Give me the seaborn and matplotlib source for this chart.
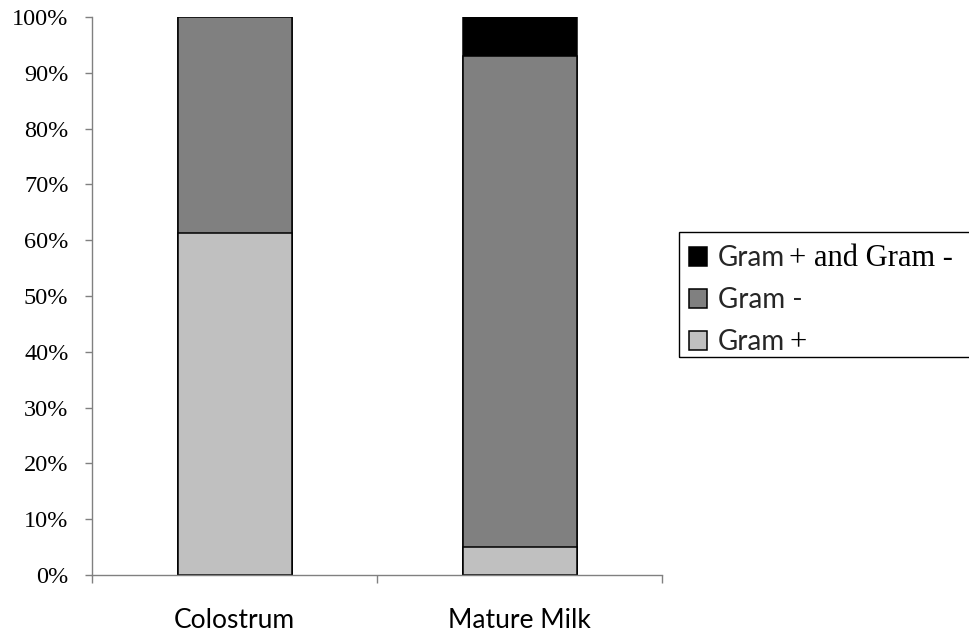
import matplotlib
matplotlib.use("Agg")
import matplotlib.pyplot as plt
import seaborn as sns
import pandas as pd
import numpy as np
from matplotlib.patches import Patch, Rectangle

categories = ["Colostrum", "Mature Milk"]
gram_pos = [61.3, 5.0]
gram_neg = [38.7, 88.0]
gram_both = [0.0, 7.0]
series_names = ["Gram + and Gram -", "Gram -", "Gram +"]
yticks = [0, 10, 20, 30, 40, 50, 60, 70, 80, 90, 100]
ytick_labels = [f"{v}%" for v in yticks]

sns.set_theme(style="white")
plt.rcParams["font.family"] = ["Liberation Serif", "DejaVu Sans"]

W, H = 969, 637
fig = plt.figure(figsize=(W / 100, H / 100), dpi=100)
ax = fig.add_axes([92 / W, 1 - 575 / H, (662 - 92) / W, (575 - 17) / H])

df = pd.DataFrame({
    "cat": categories,
    "pos": gram_pos,
    "neg": gram_neg,
    "both": gram_both,
})
df["cum_neg"] = df["pos"] + df["neg"]
df["cum_both"] = df["cum_neg"] + df["both"]

colors = {"both": "#000000", "neg": "#808080", "pos": "#C0C0C0"}
for col, c in [("cum_both", colors["both"]), ("cum_neg", colors["neg"]), ("pos", colors["pos"])]:
    sns.barplot(data=df, x="cat", y=col, ax=ax, color=c, width=0.4,
                edgecolor="black", linewidth=1.1, saturation=1, order=categories)

ax.set_xlim(-0.5, 1.5)
ax.set_ylim(0, 100)
ax.set_xlabel("")
ax.set_ylabel("")
ax.set_yticks(yticks)
ax.set_yticklabels(ytick_labels)
for t in ax.get_yticklabels():
    t.set_fontfamily("Liberation Serif")
    t.set_fontsize(17.5)
    t.set_color("black")
ax.set_xticks([0, 1])
ax.set_xticklabels(categories)
for t in ax.get_xticklabels():
    t.set_fontfamily("Lato")
    t.set_fontsize(19)
    t.set_color("black")
ax.set_xticks([-0.5, 0.5, 1.5], minor=True)
ax.tick_params(axis="x", which="major", length=0, pad=24)
ax.tick_params(axis="x", which="minor", length=6, width=1, color="#808080", direction="out", bottom=True)
ax.tick_params(axis="y", which="major", length=5, width=1, color="#808080", direction="out", left=True, pad=12)
for s in ["top", "right"]:
    ax.spines[s].set_visible(False)
for s in ["left", "bottom"]:
    ax.spines[s].set_color("#808080")
    ax.spines[s].set_linewidth(1)

handles = [
    Patch(facecolor=colors["both"], edgecolor="black", linewidth=1.1),
    Patch(facecolor=colors["neg"], edgecolor="black", linewidth=1.1),
    Patch(facecolor=colors["pos"], edgecolor="black", linewidth=1.1),
]
# sans part of each label; serif remainder appended afterwards
labels = ["Gram", "Gram -", "Gram"]
serif_tails = {0: "+ and Gram -", 2: "+"}
leg = fig.legend(handles, labels, loc="upper left",
                 bbox_to_anchor=(679 / W, 1 - 235 / H),
                 prop={"family": "Lato", "size": 20},
                 frameon=False,
                 handlelength=0.65, handleheight=0.65, handletextpad=0.4,
                 labelspacing=0.58, borderpad=0.36, borderaxespad=0)

fig.canvas.draw()
lb = leg.get_window_extent()
top = lb.y1 + 3
bottom = lb.y0 + 8
fig.add_artist(Rectangle((lb.x0 / W, bottom / H), 1.05 - lb.x0 / W, (top - bottom) / H,
                         transform=fig.transFigure, facecolor="none",
                         edgecolor="black", linewidth=1, zorder=5))
texts = leg.get_texts()
for i, tail in serif_tails.items():
    t = texts[i]
    bb = t.get_window_extent()
    x0, yb = t.get_transform().transform(t.get_position())
    fig.text((bb.x1 + 4) / W, yb / H, tail, fontfamily="Liberation Serif",
             fontsize=22, ha="left", va="baseline", color="black")

fig.savefig("out.png", dpi=100)
